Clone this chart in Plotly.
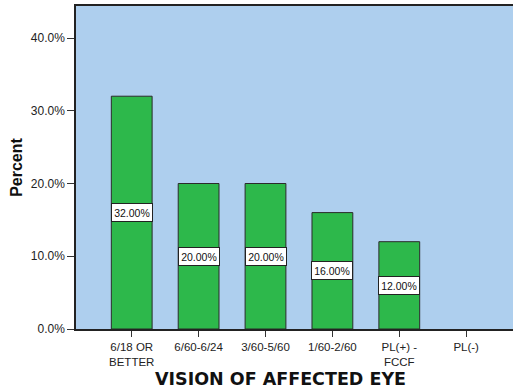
import plotly.graph_objects as go

categories = ["6/18 OR<br>BETTER", "6/60-6/24", "3/60-5/60", "1/60-2/60", "PL(+) -<br>FCCF", "PL(-)"]
percent = [32.0, 20.0, 20.0, 16.0, 12.0, 0.0]
y_ticks = [0, 10, 20, 30, 40]
y_tick_labels = ["0.0%", "10.0%", "20.0%", "30.0%", "40.0%"]

font_family = "Liberation Sans, Arial, sans-serif"

fig = go.Figure()
fig.add_trace(go.Bar(
    x=list(range(len(categories))),
    y=percent,
    marker=dict(color="#2DB84B",
                line=dict(color="#2b2b2b", width=[1 if v > 0 else 0 for v in percent])),
    width=0.61,
    hoverinfo="skip",
))

for i, v in enumerate(percent):
    if v > 0:
        fig.add_annotation(
            x=i, y=v / 2, text=f"{v:.2f}%", showarrow=False,
            font=dict(family=font_family, size=10.5, color="#111"),
            bgcolor="white", bordercolor="#222", borderwidth=1, borderpad=2,
            width=36, height=13,
        )

fig.add_annotation(
    text="<b>VISION OF AFFECTED EYE</b>", showarrow=False,
    xref="paper", yref="paper", x=0.467, y=-0.155, xanchor="center", yanchor="middle",
    font=dict(family="DejaVu Sans, sans-serif", size=17.5, color="#111"),
)

fig.update_layout(
    width=513, height=391,
    margin=dict(l=76, r=0, t=6, b=62),
    paper_bgcolor="white",
    plot_bgcolor="#AECFEE",
    showlegend=False,
    font=dict(family=font_family, color="#222"),
    xaxis=dict(
        range=[-0.833, 5.70],
        tickmode="array",
        tickvals=list(range(len(categories))),
        ticktext=categories,
        ticks="outside", ticklen=6, tickcolor="#333",
        tickfont=dict(size=11.5, color="#222"),
        showline=True, linecolor="#222", linewidth=1.5, mirror=True,
        showgrid=False, zeroline=False,
    ),
    yaxis=dict(
        range=[0, 44.4],
        tickmode="array",
        tickvals=y_ticks,
        ticktext=y_tick_labels,
        ticks="outside", ticklen=7, tickcolor="#333",
        tickfont=dict(size=12, color="#222"),
        showline=True, linecolor="#222", linewidth=1.5, mirror=False,
        showgrid=False, zeroline=False,
        title=dict(text="<b>Percent</b>", font=dict(size=16, color="#111"), standoff=4),
    ),
)

fig.write_html("out.html")
